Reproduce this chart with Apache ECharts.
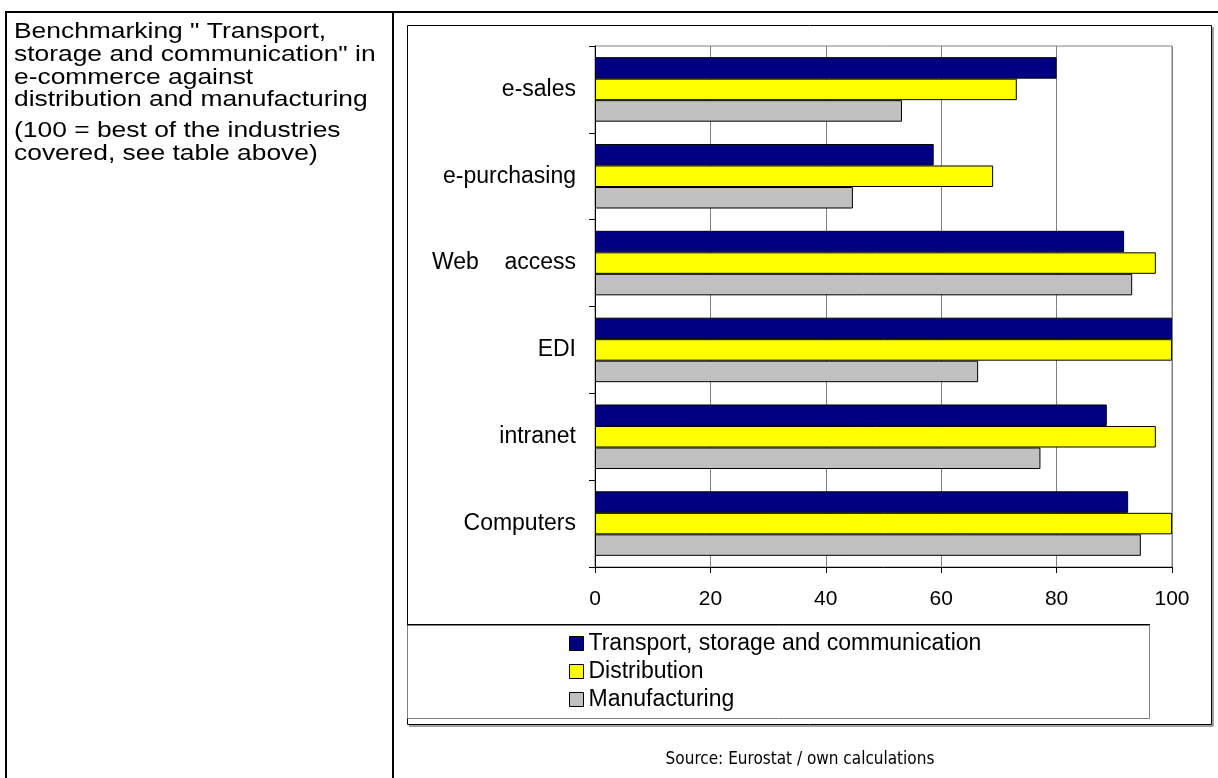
<!DOCTYPE html>
<html>
<head>
<meta charset="utf-8">
<script src="https://cdn.jsdelivr.net/npm/echarts@6/dist/echarts.min.js"></script>
<style>
  html, body { margin: 0; padding: 0; background: #fff; }
  #chart { width: 1218px; height: 778px; }
</style>
</head>
<body>
<div id="chart"></div>
<script>
// categories from top to bottom (yAxis is inverted)
var categories = ['e-sales', 'e-purchasing', 'Web    access', 'EDI', 'intranet', 'Computers'];
var seriesNames = ['Transport, storage and communication', 'Distribution', 'Manufacturing'];
var transportData = [80, 58.7, 91.7, 100, 88.7, 92.4];
var distributionData = [73.1, 69.0, 97.2, 100, 97.2, 100];
var manufacturingData = [53.2, 44.7, 93.1, 66.4, 77.2, 94.6];
var xTicks = [0, 20, 40, 60, 80, 100];

var noteLines = [
    'Benchmarking " Transport,',
    'storage and communication" in',
    'e-commerce against',
    'distribution and manufacturing'
];
var noteLines2 = [
    '(100 = best of the industries',
    'covered, see table above)'
];

var chart = echarts.init(document.getElementById('chart'));

var textFont = 'Liberation Sans, Arial, sans-serif';

// left-hand note text (the original is set wide, so stretch it a little)
var graphics = [];
function noteText(t, cy) {
    return {
        type: 'text', x: 14, y: cy, scaleX: 1.2,
        style: { text: t, x: 0, y: 0, verticalAlign: 'middle', font: '22px ' + textFont, fill: '#000' }
    };
}
noteLines.forEach(function (t, i) {
    graphics.push(noteText(t, 32 + i * 22.8));
});
noteLines2.forEach(function (t, i) {
    graphics.push(noteText(t, 131 + i * 22.8));
});

// table frame
graphics.push(
    { type: 'line', shape: { x1: 6, y1: 12, x2: 1218, y2: 12 }, style: { stroke: '#000', lineWidth: 2 } },
    { type: 'line', shape: { x1: 6, y1: 11, x2: 6, y2: 778 }, style: { stroke: '#000', lineWidth: 2 } },
    { type: 'line', shape: { x1: 393, y1: 11, x2: 393, y2: 778 }, style: { stroke: '#000', lineWidth: 2 } },
    // chart area box with small shadow
    { type: 'rect', shape: { x: 407.5, y: 25.5, width: 804, height: 699 }, style: { fill: null, stroke: '#000', lineWidth: 1 }, z: 0 },
    { type: 'polyline', shape: { points: [[1213, 27], [1213, 726], [409, 726]] }, style: { fill: null, stroke: '#444', lineWidth: 1 }, z: 0 },
    // legend box
    { type: 'rect', shape: { x: 407.5, y: 625.5, width: 742, height: 93 }, style: { fill: null, stroke: '#808080', lineWidth: 1 }, z: 0 },
    { type: 'line', shape: { x1: 408, y1: 624.5, x2: 1150, y2: 624.5 }, style: { stroke: '#000', lineWidth: 1 }, z: 0 },
    // source note
    {
        type: 'text', x: 800, y: 760,
        style: {
            text: 'Source: Eurostat / own calculations', x: 0, y: 0,
            align: 'center', verticalAlign: 'middle',
            font: '17px DejaVu Sans Condensed, DejaVu Sans, sans-serif', fill: '#000'
        }
    }
);

function barSeries(name, data, color) {
    return {
        name: name,
        type: 'bar',
        data: data,
        barGap: '0%',
        barCategoryGap: '25.7%',
        itemStyle: { color: color, borderColor: '#000', borderWidth: 1 },
        emphasis: { disabled: true }
    };
}

var option = {
    animation: false,
    backgroundColor: '#fff',
    textStyle: { fontFamily: textFont },
    grid: {
        left: 595, top: 46, width: 577, height: 521,
        show: true, borderColor: '#808080', borderWidth: 1,
        containLabel: false
    },
    legend: {
        orient: 'vertical',
        left: 564, top: 627,
        itemWidth: 14, itemHeight: 14,
        itemGap: 5,
        icon: 'rect',
        data: seriesNames,
        itemStyle: { borderColor: '#000', borderWidth: 1 },
        textStyle: { fontSize: 23, color: '#000', fontFamily: textFont },
        selectedMode: false
    },
    xAxis: {
        type: 'value',
        min: xTicks[0], max: xTicks[xTicks.length - 1], interval: 20,
        axisLine: { show: true, lineStyle: { color: '#000', width: 1 } },
        axisTick: { show: true, length: 6, lineStyle: { color: '#000' } },
        axisLabel: { fontSize: 21, color: '#000', margin: 22, fontFamily: textFont },
        splitLine: { show: true, lineStyle: { color: '#808080', width: 1 } }
    },
    yAxis: {
        type: 'category',
        inverse: true,
        data: categories,
        axisLine: { show: true, lineStyle: { color: '#000', width: 1 } },
        axisTick: { show: true, length: 6, lineStyle: { color: '#000' } },
        axisLabel: { fontSize: 23, color: '#000', margin: 19, fontFamily: textFont },
        splitLine: { show: false }
    },
    series: [
        barSeries(seriesNames[0], transportData, '#000080'),
        barSeries(seriesNames[1], distributionData, '#ffff00'),
        barSeries(seriesNames[2], manufacturingData, '#c0c0c0')
    ],
    graphic: graphics
};

chart.setOption(option);
</script>
</body>
</html>
